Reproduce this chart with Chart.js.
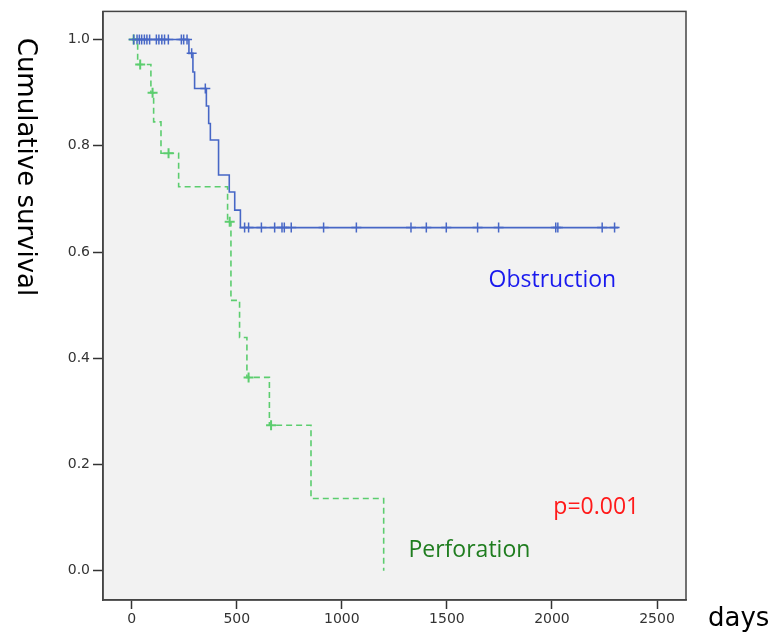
<!DOCTYPE html>
<html>
<head>
<meta charset="utf-8">
<script src="https://cdn.jsdelivr.net/npm/chart.js@4.4.1/dist/chart.umd.min.js"></script>
<style>
  html, body { margin: 0; padding: 0; background: #ffffff; }
  #wrap { width: 772px; height: 635px; position: relative; }
</style>
</head>
<body>
<div id="wrap"><canvas id="c" width="772" height="635"></canvas></div>
<script>
// ---- Data ----
const obstructionTimes = [0, 272, 291, 299, 355, 366, 374, 413, 464, 490, 517];
const obstructionSurvival = [1.0, 0.974, 0.939, 0.908, 0.875, 0.842, 0.811, 0.745, 0.713, 0.679, 0.646];
const obstructionLastFollowUp = 2316;
const obstructionCensored = [9, 25, 36, 47, 60, 72, 85, 117, 129, 143, 156, 174, 236, 247, 263, 285, 350,
  537, 556, 617, 680, 715, 726, 759, 913, 1069, 1329, 1402, 1497, 1646, 1746, 2018, 2028, 2239, 2298];

const perforationTimes = [0, 28, 91, 104, 139, 223, 456, 472, 513, 548, 655, 853, 1199];
const perforationSurvival = [1.0, 0.953, 0.900, 0.845, 0.786, 0.723, 0.657, 0.509, 0.439, 0.364, 0.274, 0.136, 0.0];
const perforationCensored = [9, 40, 99, 175, 466, 556, 663];

const xTickValues = [0, 500, 1000, 1500, 2000, 2500];
const yTickValues = [0.0, 0.2, 0.4, 0.6, 0.8, 1.0];

const groupLabels = ['Obstruction', 'Perforation'];
const pValueLabel = 'p=0.001';
const xAxisTitle = 'days';
const yAxisTitle = 'Cumulative survival';

// ---- helpers ----
function stepPoints(times, surv, lastTime) {
  const pts = times.map((t, i) => ({ x: t, y: surv[i] }));
  if (lastTime !== undefined) pts.push({ x: lastTime, y: surv[surv.length - 1] });
  return pts;
}
function survivalAt(times, surv, t) {
  let s = surv[0];
  for (let i = 0; i < times.length; i++) { if (times[i] <= t) s = surv[i]; }
  return s;
}
function censorPoints(ctimes, times, surv) {
  return ctimes.map(t => ({ x: t, y: survivalAt(times, surv, t) }));
}

const BLUE = '#4767c6';
const GREEN = '#5ccd6f';

const bgFrame = {
  id: 'bgFrame',
  beforeDraw(chart) {
    const { ctx, chartArea: a } = chart;
    ctx.save();
    ctx.fillStyle = '#ffffff';
    ctx.fillRect(0, 0, chart.width, chart.height);
    ctx.fillStyle = '#f2f2f2';
    ctx.fillRect(a.left, a.top, a.right - a.left, a.bottom - a.top);
    ctx.restore();
  },
  afterDraw(chart) {
    const { ctx, chartArea: a, scales } = chart;
    ctx.save();
    ctx.strokeStyle = '#444';
    ctx.lineWidth = 1.5;
    ctx.strokeRect(a.left, a.top, a.right - a.left, a.bottom - a.top);

    // annotations
    const xs = scales.x, ys = scales.y;
    ctx.textBaseline = 'middle';
    ctx.textAlign = 'center';
    ctx.font = '23px "Open Sans"';
    ctx.fillStyle = '#1a1aee';
    ctx.fillText(groupLabels[0], xs.getPixelForValue(2002), ys.getPixelForValue(0.547));
    ctx.fillStyle = '#1f7d1f';
    ctx.fillText(groupLabels[1], xs.getPixelForValue(1607), ys.getPixelForValue(0.039));
    ctx.fillStyle = '#ff1a1a';
    ctx.fillText(pValueLabel, xs.getPixelForValue(2211), ys.getPixelForValue(0.120));

    // axis titles
    ctx.fillStyle = '#000';
    ctx.font = '26px "DejaVu Sans"';
    ctx.textAlign = 'left';
    ctx.fillText(xAxisTitle, 708, 619);
    ctx.translate(25, 167);
    ctx.rotate(Math.PI / 2);
    ctx.textAlign = 'center';
    ctx.fillText(yAxisTitle, 0, 0);
    ctx.restore();
  }
};

new Chart(document.getElementById('c'), {
  type: 'scatter',
  data: {
    datasets: [
      {
        label: groupLabels[0],
        data: stepPoints(obstructionTimes, obstructionSurvival, obstructionLastFollowUp),
        showLine: true, stepped: true,
        borderColor: BLUE, borderWidth: 1.6, pointRadius: 0, fill: false
      },
      {
        label: groupLabels[1],
        data: stepPoints(perforationTimes, perforationSurvival),
        showLine: true, stepped: true,
        borderColor: GREEN, borderWidth: 1.6, borderDash: [6, 4], pointRadius: 0, fill: false
      },
      {
        label: groupLabels[0] + ' censored',
        data: censorPoints(obstructionCensored, obstructionTimes, obstructionSurvival),
        showLine: false, pointStyle: 'cross', pointRadius: 5,
        borderColor: BLUE, borderWidth: 1.5, backgroundColor: BLUE
      },
      {
        label: groupLabels[1] + ' censored',
        data: censorPoints(perforationCensored, perforationTimes, perforationSurvival),
        showLine: false, pointStyle: 'cross', pointRadius: 5,
        borderColor: GREEN, borderWidth: 2, backgroundColor: GREEN
      }
    ]
  },
  options: {
    responsive: false,
    animation: false,
    devicePixelRatio: 1,
    layout: { padding: { top: 11, right: 86, left: 0, bottom: 0 } },
    plugins: { legend: { display: false }, tooltip: { enabled: false } },
    scales: {
      x: {
        type: 'linear',
        min: -137, max: 2638,
        afterBuildTicks(s) { s.ticks = xTickValues.map(v => ({ value: v })); },
        afterFit(s) { s.height = 35; },
        grid: { drawOnChartArea: false, drawTicks: true, tickLength: 9, tickColor: '#333', tickWidth: 1.5 },
        border: { display: true, color: '#444', width: 1.5 },
        ticks: { color: '#333', font: { family: 'DejaVu Sans', size: 14 }, padding: 2, maxRotation: 0,
                 callback: v => String(v) }
      },
      y: {
        type: 'linear',
        min: -0.055, max: 1.053,
        afterBuildTicks(s) { s.ticks = yTickValues.map(v => ({ value: v })); },
        afterFit(s) { s.width = 103; },
        grid: { drawOnChartArea: false, drawTicks: true, tickLength: 10, tickColor: '#333', tickWidth: 1.5 },
        border: { display: true, color: '#444', width: 1.5 },
        ticks: { color: '#333', font: { family: 'DejaVu Sans', size: 14 }, padding: 3,
                 callback: v => Number(v).toFixed(1) }
      }
    }
  },
  plugins: [bgFrame]
});
</script>
</body>
</html>
